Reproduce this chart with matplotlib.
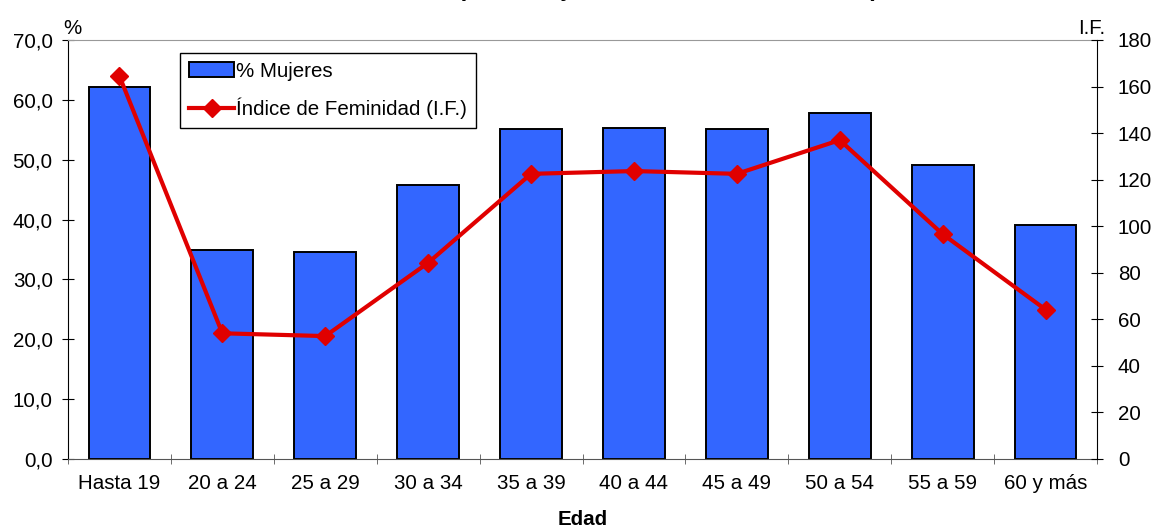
import numpy as np
import matplotlib
matplotlib.use("Agg")
import matplotlib.pyplot as plt
from matplotlib.ticker import FuncFormatter, MultipleLocator

plt.rcParams['font.family'] = ['Liberation Sans', 'DejaVu Sans']

edades = ["Hasta 19", "20 a 24", "25 a 29", "30 a 34", "35 a 39",
          "40 a 44", "45 a 49", "50 a 54", "55 a 59", "60 y más"]
pct_mujeres = [62.1, 34.9, 34.6, 45.8, 55.1, 55.3, 55.1, 57.8, 49.1, 39.1]
indice_fem = [164.5, 54.0, 52.8, 84.3, 122.5, 123.7, 122.5, 137.0, 96.6, 64.2]

fs = 14.8

fig = plt.figure(figsize=(11.54, 5.27), dpi=100)
ax = fig.add_axes([68/1154, 1-459/527, (1097-68)/1154, (459-40)/527])
x = np.arange(len(edades))

bars = ax.bar(x, pct_mujeres, width=0.6, color='#3366FF', edgecolor='black',
              linewidth=1.4, label='% Mujeres', zorder=2)
ax.set_xlim(-0.5, len(edades)-0.5)
ax.set_ylim(0, 70)
ax.yaxis.set_major_locator(MultipleLocator(10))
ax.yaxis.set_major_formatter(FuncFormatter(lambda v, p: f"{v:.1f}".replace('.', ',')))
ax.set_xticks(x)
ax.set_xticklabels(edades)
ax.set_xticks(np.arange(-0.5, len(edades)), minor=True)
ax.tick_params(axis='x', which='major', length=0, labelsize=fs, pad=11)
ax.tick_params(axis='x', which='minor', length=7, direction='inout', color='#555555')
ax.tick_params(axis='y', direction='inout', length=8, labelsize=fs, pad=7)
ax.set_xlabel('Edad', fontsize=fs, fontweight='bold', labelpad=12)

ax.spines['top'].set_color('#999999')
ax.spines['bottom'].set_color('#555555')
ax.spines['right'].set_visible(False)

ax2 = ax.twinx()
line, = ax2.plot(x, indice_fem, color='#E00000', linewidth=3, marker='D',
                 markersize=9.5, label='Índice de Feminidad (I.F.)', zorder=3)
ax2.set_ylim(0, 180)
ax2.yaxis.set_major_locator(MultipleLocator(20))
ax2.tick_params(axis='y', direction='inout', length=8, labelsize=fs, pad=11)
ax2.spines['top'].set_visible(False)
ax2.spines['left'].set_visible(False)
ax2.spines['bottom'].set_visible(False)

ax.text(0.004, 1.004, '%', transform=ax.transAxes, fontsize=fs, ha='center', va='bottom')
ax2.text(1.008, 1.004, 'I.F.', transform=ax2.transAxes, fontsize=fs, ha='right', va='bottom')

# title sits mostly above the figure edge, as in the cropped original
fig.text(0.579, 1.008, '(% de Mujeres e Índice de Feminidad)', fontsize=17,
         fontweight='bold', ha='center', va='baseline')

leg = ax2.legend([bars, line], ['% Mujeres', 'Índice de Feminidad (I.F.)'],
                 loc='upper left', bbox_to_anchor=(0.109, 0.97), fontsize=fs,
                 frameon=True, fancybox=False, edgecolor='black', handlelength=2.15,
                 handletextpad=0.1, borderpad=0.45, labelspacing=0.8, framealpha=1,
                 borderaxespad=0)
leg.get_frame().set_linewidth(1.0)

fig.savefig('out.png', dpi=100)
